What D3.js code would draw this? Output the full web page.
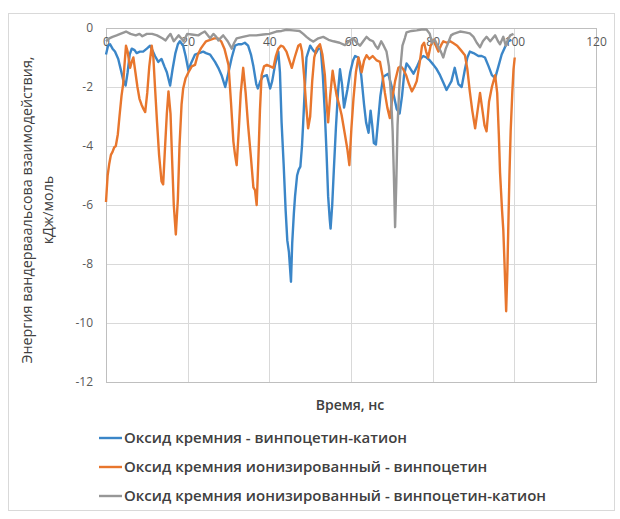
<!DOCTYPE html>
<html>
<head>
<meta charset="utf-8">
<script src="https://cdn.jsdelivr.net/npm/d3@7"></script>
<style>
  html, body { margin: 0; padding: 0; background: #fff; }
  svg { display: block; }
  text { font-family: "Open Sans", "Noto Sans", sans-serif; }
</style>
</head>
<body>
<svg id="chart" width="620" height="519"></svg>
<script>
// Van der Waals interaction energy (kJ/mol) over simulation time (ns)
const xTicks = [0, 20, 40, 60, 80, 100, 120];
const yTicks = [0, -2, -4, -6, -8, -10, -12];

const seriesNames = [
  "Оксид кремния - винпоцетин-катион",
  "Оксид кремния ионизированный - винпоцетин",
  "Оксид кремния ионизированный - винпоцетин-катион"
];
const seriesColors = ["#3b86c8", "#e8762d", "#979797"];

// Series 1: silicon oxide – vinpocetine cation
const blueTime = [0,0.5,1.0,1.6,2.2,3.0,3.6,4.2,4.8,5.3,5.8,6.3,7.0,7.5,8.3,9.1,10.0,10.8,11.5,12.0,12.8,13.6,14.3,14.9,15.7,16.3,17.0,17.6,18.1,18.9,19.5,20.2,20.8,21.8,22.8,23.8,24.5,25.5,26.7,27.5,28.3,29.2,30.0,30.8,31.6,32.4,33.2,34.0,34.8,35.5,36.1,36.8,37.2,37.8,38.4,39.4,40.2,40.7,41.4,42.2,42.6,43.0,43.5,44.0,44.4,44.8,45.3,45.6,46.0,46.3,46.8,47.2,47.6,48.0,48.3,48.7,49.1,50.0,50.7,51.4,52.0,52.6,53.1,53.6,54.0,54.4,54.8,55.0,55.4,55.8,56.3,56.8,57.3,57.8,58.3,58.7,59.1,59.8,60.5,61.0,61.8,62.5,63.2,63.7,64.3,64.8,65.2,65.6,66.1,66.6,67.2,67.9,68.5,69.1,69.8,70.5,71.2,71.9,72.5,73.0,73.6,74.4,75.3,76.2,77.0,77.7,78.5,79.3,80.2,81.0,81.8,82.6,83.4,84.0,84.6,85.4,86.3,87.1,87.9,88.5,89.1,90.0,91.2,92.0,92.8,93.7,94.5,95.3,96.0,96.9,97.7,98.5,99.3];
const blueEnergy = [-0.9,-0.6,-0.55,-0.7,-0.8,-1.05,-1.4,-1.75,-1.95,-1.5,-0.9,-0.7,-0.75,-0.85,-0.8,-0.8,-0.7,-0.6,-0.8,-0.95,-1.15,-1.05,-1.3,-1.5,-1.95,-1.4,-0.85,-0.55,-0.45,-0.6,-0.95,-1.45,-1.2,-0.9,-0.85,-0.8,-0.85,-0.9,-1.15,-1.35,-1.6,-2.0,-1.5,-1.0,-0.6,-0.55,-0.55,-0.5,-0.6,-0.9,-1.3,-1.9,-2.05,-1.8,-1.65,-1.6,-2.05,-1.8,-1.25,-0.8,-1.5,-3.2,-4.6,-6.2,-7.2,-7.6,-8.6,-7.3,-6.3,-5.7,-5.0,-4.8,-4.7,-4.0,-3.2,-2.0,-1.0,-0.6,-0.75,-0.85,-0.7,-0.7,-1.6,-2.9,-4.2,-5.7,-6.5,-6.8,-6.0,-4.8,-3.4,-2.2,-1.4,-1.9,-2.7,-2.4,-2.1,-1.5,-1.1,-0.95,-1.0,-1.6,-2.6,-3.2,-3.55,-2.8,-3.3,-3.9,-3.95,-3.2,-2.3,-1.65,-1.6,-1.55,-1.9,-2.3,-2.75,-2.9,-2.3,-1.6,-1.2,-1.35,-1.55,-1.3,-1.05,-0.95,-1.0,-1.1,-1.25,-1.4,-1.6,-1.85,-2.1,-1.95,-1.8,-1.35,-1.9,-2.0,-1.4,-1.0,-0.8,-0.85,-0.95,-0.95,-1.0,-1.3,-1.6,-1.7,-1.35,-0.9,-0.65,-0.45,-0.4];

// Series 2: ionized silicon oxide – vinpocetine
const orangeTime = [0,0.4,0.8,1.2,1.6,2.0,2.4,2.9,3.3,3.8,4.2,4.5,4.9,5.3,5.9,6.3,6.7,7.2,7.7,8.2,8.7,9.2,9.6,10.1,10.6,11.2,11.6,12.0,12.5,13.0,13.6,14.0,14.4,14.9,15.3,15.8,16.2,16.6,17.1,17.6,18.0,18.5,18.9,19.5,20.2,21.0,21.8,22.5,23.2,23.8,24.5,25.5,26.5,27.4,28.2,29.0,30.0,30.6,31.2,31.6,32.0,32.5,33.0,33.6,34.2,34.8,35.5,36.1,36.5,36.9,37.3,37.7,38.1,38.7,39.4,40.2,41.0,41.6,42.2,42.8,43.4,44.2,44.9,45.5,46.2,47.1,47.6,48.0,48.5,49.0,49.5,50.0,50.5,51.0,51.6,52.4,53.0,53.6,54.0,54.4,54.9,55.5,56.0,56.5,57.1,57.7,58.5,59.1,59.6,60.1,60.6,61.2,61.8,62.2,62.6,63.2,63.8,64.5,65.3,66.3,67.1,67.7,68.3,68.9,69.5,70.1,70.8,71.6,72.2,72.8,73.5,74.2,74.9,75.5,76.1,76.8,77.4,77.9,78.4,78.9,79.5,80.2,80.8,81.4,82.0,82.6,83.5,84.3,85.1,86.0,86.9,87.9,88.5,89.1,89.7,90.4,91.0,91.6,92.1,92.7,93.2,93.8,94.5,95.3,95.8,96.2,96.5,97.0,97.3,97.6,98.0,98.3,98.5,98.8,99.1,99.5,99.8,100.1];
const orangeEnergy = [-5.9,-5.0,-4.6,-4.3,-4.2,-4.05,-4.0,-3.6,-3.0,-2.3,-1.9,-1.3,-0.6,-0.8,-1.35,-1.15,-1.0,-1.5,-2.0,-2.4,-2.6,-2.75,-2.85,-2.2,-1.3,-0.6,-1.0,-2.0,-3.2,-4.3,-5.2,-5.3,-4.2,-2.9,-2.15,-2.9,-4.5,-6.0,-7.0,-5.8,-4.0,-2.6,-2.05,-1.7,-1.5,-1.3,-1.25,-0.9,-0.7,-0.58,-0.45,-0.4,-0.35,-0.35,-0.45,-0.7,-1.25,-2.5,-3.85,-4.3,-4.65,-3.5,-2.2,-1.35,-2.2,-3.3,-4.4,-5.4,-5.5,-6.0,-4.5,-2.8,-1.6,-1.3,-1.25,-1.3,-1.35,-0.95,-0.7,-0.6,-0.63,-0.8,-1.1,-1.35,-1.0,-0.6,-0.55,-0.8,-1.6,-2.6,-3.4,-3.0,-1.8,-1.0,-0.69,-0.55,-0.9,-1.6,-2.5,-3.2,-2.3,-1.45,-1.9,-2.3,-2.6,-2.95,-3.6,-4.1,-4.65,-3.4,-2.4,-1.5,-1.0,-1.2,-1.5,-1.1,-0.92,-1.05,-0.95,-1.1,-1.15,-1.6,-2.2,-2.7,-3.05,-2.4,-1.8,-1.35,-1.3,-1.4,-1.6,-1.9,-2.15,-2.0,-1.8,-1.2,-0.6,-0.5,-0.8,-1.0,-0.6,-0.4,-0.6,-0.8,-0.6,-0.45,-0.5,-0.45,-0.52,-0.6,-0.75,-0.92,-1.4,-2.16,-2.8,-3.4,-2.8,-2.2,-2.7,-3.3,-3.5,-2.5,-2.0,-1.6,-2.2,-3.6,-4.9,-6.2,-6.85,-8.0,-9.6,-8.2,-6.9,-5.0,-3.5,-2.2,-1.4,-1.0];

// Series 3: ionized silicon oxide – vinpocetine cation
const grayTime = [0,0.8,1.6,2.6,3.5,4.9,6.0,7.3,8.2,8.9,10.0,11.3,12.5,13.8,14.6,15.3,15.8,16.6,17.2,17.8,18.4,19.0,19.9,21.0,22.6,23.4,24.2,25.5,26.3,27.0,27.5,28.7,29.8,30.8,31.4,32.0,33.5,35.2,36.8,38.5,40.0,41.7,43.0,44.2,45.8,47.4,48.3,49.1,50.0,50.8,52.0,53.2,54.5,55.7,57.2,58.5,59.5,60.5,61.4,62.2,63.0,63.8,64.6,65.4,66.0,66.6,67.4,68.0,68.7,69.3,69.8,70.2,70.5,70.8,71.1,71.4,71.8,72.2,72.6,73.2,73.6,74.8,76.1,77.3,78.5,79.3,79.8,80.5,81.2,82.0,82.6,83.2,83.8,84.5,85.1,86.7,88.0,89.1,90.0,90.8,91.6,92.3,93.2,94.1,94.7,95.3,96.0,96.5,97.3,97.9,98.4,99.0,99.8];
const grayEnergy = [-0.45,-0.35,-0.3,-0.25,-0.2,-0.12,-0.2,-0.25,-0.2,-0.28,-0.2,-0.2,-0.25,-0.35,-0.42,-0.28,-0.2,-0.45,-0.35,-0.25,-0.35,-0.45,-0.2,-0.22,-0.25,-0.18,-0.12,-0.35,-0.2,-0.3,-0.42,-0.25,-0.45,-0.7,-0.5,-0.35,-0.3,-0.25,-0.25,-0.22,-0.2,-0.12,-0.1,-0.06,-0.08,-0.1,-0.2,-0.3,-0.4,-0.46,-0.35,-0.3,-0.4,-0.45,-0.5,-0.58,-0.45,-0.35,-0.5,-0.6,-0.45,-0.3,-0.4,-0.45,-0.6,-0.7,-0.45,-0.6,-0.8,-1.3,-2.3,-3.5,-5.0,-6.75,-5.2,-3.3,-2.1,-1.2,-0.6,-0.34,-0.15,-0.1,-0.08,-0.05,-0.05,-0.2,-0.5,-0.4,-0.6,-0.8,-1.0,-0.7,-0.5,-0.25,-0.2,-0.12,-0.15,-0.18,-0.3,-0.5,-0.65,-0.45,-0.3,-0.45,-0.35,-0.25,-0.45,-0.55,-0.3,-0.6,-0.4,-0.25,-0.2];

const svg = d3.select("#chart");
const W = 620, H = 519;
const plot = { left: 106, right: 596, top: 28, bottom: 382 };

// Outer chart border
svg.append("rect")
  .attr("x", 8.5).attr("y", 13.5)
  .attr("width", W - 14).attr("height", H - 22)
  .attr("fill", "#fff").attr("stroke", "#d9d9d9").attr("stroke-width", 1);

const x = d3.scaleLinear().domain([0, 120]).range([plot.left, plot.right]);
const y = d3.scaleLinear().domain([-12, 0]).range([plot.bottom, plot.top]);

// Gridlines
const grid = svg.append("g").attr("stroke", "#d9d9d9").attr("stroke-width", 1);
grid.selectAll("line.h").data(yTicks).join("line")
  .attr("x1", plot.left).attr("x2", plot.right)
  .attr("y1", d => Math.round(y(d)) + 0.5).attr("y2", d => Math.round(y(d)) + 0.5);
grid.selectAll("line.v").data(xTicks).join("line")
  .attr("y1", plot.top).attr("y2", plot.bottom)
  .attr("x1", d => Math.round(x(d)) + 0.5).attr("x2", d => Math.round(x(d)) + 0.5);

// Plot frame
svg.append("rect")
  .attr("x", plot.left + 0.5).attr("y", plot.top + 0.5)
  .attr("width", plot.right - plot.left).attr("height", plot.bottom - plot.top)
  .attr("fill", "none").attr("stroke", "#bfbfbf");

// Y axis labels
const yAxis = d3.axisLeft(y).tickValues(yTicks).tickSize(0).tickPadding(13)
  .tickFormat(d => d === 0 ? "0" : "-" + Math.abs(d));
const gy = svg.append("g").attr("transform", `translate(${plot.left},0)`).call(yAxis);
gy.select(".domain").remove();
gy.selectAll("text").attr("fill", "#595959").style("font-size", "12px");

// X axis labels, placed just under the zero line at the top
const xAxis = d3.axisBottom(x).tickValues(xTicks).tickSize(0).tickPadding(9);
const gx = svg.append("g").attr("transform", `translate(0,${y(0)})`).call(xAxis);
gx.select(".domain").remove();
gx.selectAll("text").attr("fill", "#595959").style("font-size", "12px");

// Series lines
const line = d3.line().x(d => x(d[0])).y(d => y(d[1]));
const series = [
  d3.zip(blueTime, blueEnergy),
  d3.zip(orangeTime, orangeEnergy),
  d3.zip(grayTime, grayEnergy)
];
series.forEach((pts, i) => {
  svg.append("path")
    .datum(pts)
    .attr("d", line)
    .attr("fill", "none")
    .attr("stroke", seriesColors[i])
    .attr("stroke-width", 2.4)
    .attr("stroke-linejoin", "round");
});

// Axis titles
svg.append("text")
  .attr("x", (plot.left + plot.right) / 2 - 1).attr("y", 410)
  .attr("text-anchor", "middle")
  .attr("fill", "#404040").style("font-size", "14px").style("font-weight", 600)
  .text("Время, нс");

const yTitle = svg.append("g").attr("transform", "translate(32,210) rotate(-90)");
yTitle.append("text")
  .attr("x", 0).attr("y", 0)
  .attr("text-anchor", "middle")
  .attr("fill", "#404040").style("font-size", "14.3px")
  .text("Энергия вандерваальсова взаимодействия,");
yTitle.append("text")
  .attr("x", 0).attr("y", 21)
  .attr("text-anchor", "middle")
  .attr("fill", "#404040").style("font-size", "14.3px")
  .text("кДж/моль");

// Legend
const legend = svg.append("g");
const legendY = [438, 467, 496];
seriesNames.forEach((name, i) => {
  legend.append("line")
    .attr("x1", 99).attr("x2", 122)
    .attr("y1", legendY[i]).attr("y2", legendY[i])
    .attr("stroke", seriesColors[i]).attr("stroke-width", 2.4);
  legend.append("text")
    .attr("x", 124).attr("y", legendY[i])
    .attr("dy", "0.35em")
    .attr("fill", "#404040").style("font-size", "15px").style("font-weight", 600)
    .text(name);
});
</script>
</body>
</html>
